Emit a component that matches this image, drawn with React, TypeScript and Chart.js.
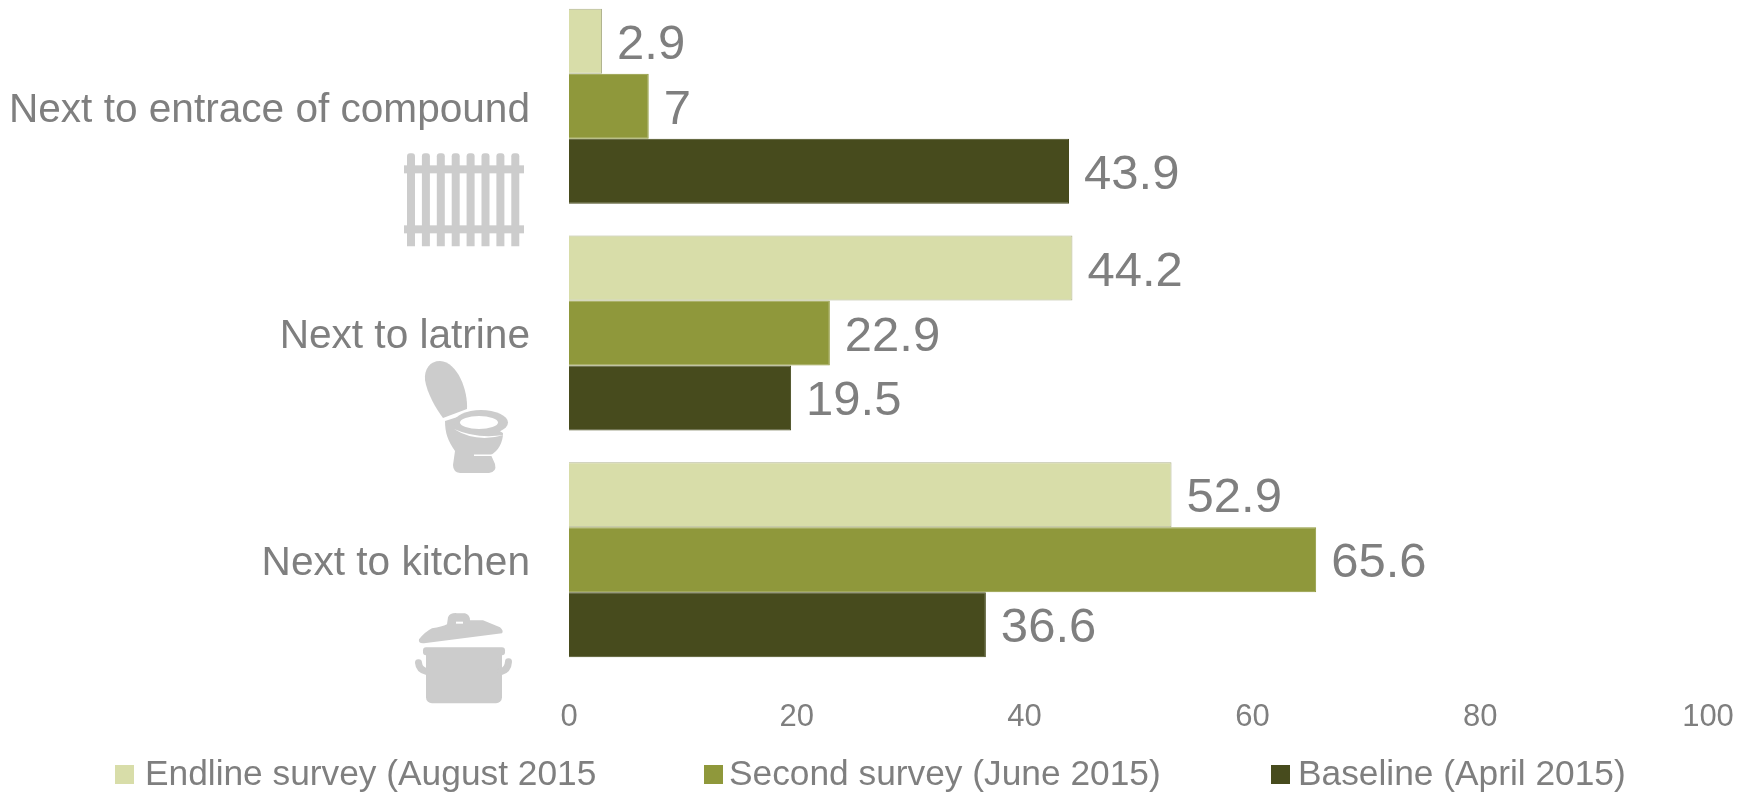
import React, { useEffect, useRef } from "react";
import { Chart, registerables } from "chart.js";

Chart.register(...registerables);

const categories = ["Next to entrace of compound", "Next to latrine", "Next to kitchen"];
const endline = [2.9, 44.2, 52.9];
const second = [7, 22.9, 65.6];
const baseline = [43.9, 19.5, 36.6];
const seriesNames = ["Endline survey (August 2015", "Second survey (June 2015)", "Baseline (April 2015)"];
const fills = ["#D8DDA9", "#8F983B", "#474B1D"];
const edges = ["#B0B38E", "#8F983B", "#474B1D"];
const xTicks = [0, 20, 40, 60, 80, 100];

const FONT = '"Liberation Sans", Arial, sans-serif';
const TEXT = "#7F7F7F";
const ICON = "#CCCCCC";
const CANVAS_SHIFT = 20; // the plot starts slightly above the page edge

function drawFence(c: CanvasRenderingContext2D) {
  c.fillStyle = ICON;
  for (let i = 0; i < 8; i++) {
    c.beginPath();
    c.roundRect(407 + i * 14.9, 47, 8, 93, [3, 3, 0, 0]);
    c.fill();
  }
  c.fillRect(404, 59, 120, 8);
  c.fillRect(404, 119, 120, 8);
}

function drawToilet(c: CanvasRenderingContext2D) {
  c.fillStyle = ICON;
  // raised lid
  c.beginPath();
  c.moveTo(440, 28);
  c.bezierCurveTo(430, 28, 424, 36, 425, 47);
  c.bezierCurveTo(427, 60, 436, 76, 443, 85);
  c.lineTo(467, 76);
  c.bezierCurveTo(468, 58, 458, 29, 440, 28);
  c.fill();
  // bowl and pedestal
  c.beginPath();
  c.moveTo(445, 88);
  c.lineTo(470, 80);
  c.lineTo(503, 100);
  c.bezierCurveTo(503, 110, 498, 118, 491, 122);
  c.lineTo(495, 131);
  c.quadraticCurveTo(497, 139, 489, 140);
  c.lineTo(460, 140);
  c.quadraticCurveTo(453, 139, 453, 132);
  c.lineTo(455, 118);
  c.bezierCurveTo(448, 108, 445, 100, 445, 88);
  c.fill();
  // seat rim
  c.beginPath();
  c.ellipse(481, 89.5, 27, 12.5, 0, 0, Math.PI * 2);
  c.fill();
  // white cut-outs: seat opening, rim shadow and foot notch
  c.fillStyle = "#FFFFFF";
  c.beginPath();
  c.ellipse(479, 89.5, 19, 6.5, 0, 0, Math.PI * 2);
  c.fill();
  c.beginPath();
  c.moveTo(454, 96);
  c.quadraticCurveTo(476, 110, 504, 102);
  c.quadraticCurveTo(476, 106, 454, 96);
  c.fill();
  c.fillRect(474, 121.5, 18, 1.5);
}

function drawPot(c: CanvasRenderingContext2D) {
  c.fillStyle = ICON;
  // tilted lid with its knob
  c.beginPath();
  c.moveTo(419, 79.5);
  c.quadraticCurveTo(425, 72, 432, 68.5);
  c.quadraticCurveTo(442, 67, 447, 64.5);
  c.lineTo(448, 57.5);
  c.quadraticCurveTo(450, 53, 457, 53.5);
  c.lineTo(465, 53.5);
  c.quadraticCurveTo(470, 55, 470, 60.5);
  c.lineTo(483, 60.5);
  c.lineTo(500, 67.5);
  c.quadraticCurveTo(504, 71, 502, 73.5);
  c.lineTo(424, 83.5);
  c.quadraticCurveTo(418, 84, 419, 79.5);
  c.fill();
  c.fillStyle = "#FFFFFF";
  c.fillRect(456, 62, 7, 2);
  c.fillStyle = ICON;
  // rim and body
  c.beginPath();
  c.roundRect(423, 87.5, 82, 8, 3);
  c.fill();
  c.beginPath();
  c.roundRect(426, 92, 76, 51.5, [0, 0, 6, 6]);
  c.fill();
  // side handles
  c.lineWidth = 7;
  c.strokeStyle = ICON;
  c.lineCap = "round";
  c.beginPath();
  c.moveTo(418.5, 103);
  c.quadraticCurveTo(419, 110, 427, 112);
  c.stroke();
  c.beginPath();
  c.moveTo(508.5, 102);
  c.quadraticCurveTo(508, 110, 501, 112);
  c.stroke();
}

const iconDrawers = [drawFence, drawToilet, drawPot];

// Pictograms sit under each category label, following the category positions.
const categoryIcons = {
  id: "categoryIcons",
  afterDraw(chart: any) {
    const { ctx, scales } = chart;
    iconDrawers.forEach((draw, i) => {
      ctx.save();
      ctx.translate(0, scales.y.getPixelForValue(i));
      draw(ctx);
      ctx.restore();
    });
  },
};

// Value printed to the right of each bar.
const barValues = {
  id: "barValues",
  afterDatasetsDraw(chart: any) {
    const { ctx } = chart;
    ctx.save();
    ctx.font = `49px ${FONT}`;
    ctx.fillStyle = TEXT;
    ctx.textAlign = "left";
    ctx.textBaseline = "middle";
    chart.data.datasets.forEach((ds: any, d: number) => {
      chart.getDatasetMeta(d).data.forEach((bar: any, i: number) => {
        ctx.fillText(String(ds.data[i]), bar.x + 15, bar.y + 4);
      });
    });
    ctx.restore();
  },
};

// Legend row along the bottom: one swatch and one caption per series.
const swatchLeft = [115, 704, 1271];
const captionLeft = [145, 729, 1298];
const legendRow = {
  id: "legendRow",
  afterDraw(chart: any) {
    const { ctx } = chart;
    const y = 775 + CANVAS_SHIFT;
    ctx.save();
    ctx.font = `35.3px ${FONT}`;
    ctx.textBaseline = "middle";
    ctx.textAlign = "left";
    chart.data.datasets.forEach((ds: any, i: number) => {
      ctx.fillStyle = ds.backgroundColor;
      ctx.fillRect(swatchLeft[i], y - 10, 19, 19);
      ctx.fillStyle = TEXT;
      ctx.fillText(ds.label, captionLeft[i], y);
    });
    ctx.restore();
  },
};

export default function App() {
  const ref = useRef<HTMLCanvasElement>(null);

  useEffect(() => {
    document.body.style.overflow = "hidden";
    const chart = new Chart(ref.current!, {
      type: "bar",
      data: {
        labels: categories,
        datasets: [endline, second, baseline].map((data, i) => ({
          label: seriesNames[i],
          data,
          backgroundColor: fills[i],
          borderColor: edges[i],
          borderWidth: 1,
          categoryPercentage: 0.86,
          barPercentage: 1,
        })),
      },
      options: {
        indexAxis: "y",
        responsive: false,
        animation: false,
        layout: { padding: { top: 13, right: 47, left: 0, bottom: 0 } },
        scales: {
          x: {
            min: 0,
            max: 100,
            afterBuildTicks(scale: any) {
              scale.ticks = xTicks.map((value) => ({ value }));
            },
            afterFit(scale: any) {
              scale.height = 122;
              scale.paddingLeft = 0;
              scale.paddingRight = 0;
            },
            grid: { display: false, drawTicks: false },
            border: { display: false },
            ticks: {
              color: TEXT,
              padding: 26,
              maxRotation: 0,
              font: { family: FONT, size: 31 },
            },
          },
          y: {
            afterFit(scale: any) {
              scale.width = 569;
              scale.paddingTop = 0;
              scale.paddingBottom = 0;
            },
            grid: { display: false, drawTicks: false },
            border: { display: false },
            ticks: {
              color: TEXT,
              padding: 39,
              labelOffset: 4,
              font: { family: FONT, size: 40.6 },
            },
          },
        },
        plugins: {
          legend: { display: false },
          tooltip: { enabled: false },
        },
      },
      plugins: [barValues, categoryIcons, legendRow],
    } as any);
    return () => chart.destroy();
  }, []);

  return (
    <canvas
      ref={ref}
      width={1755}
      height={795 + CANVAS_SHIFT}
      style={{ position: "fixed", left: 0, top: -CANVAS_SHIFT, display: "block" }}
    />
  );
}
